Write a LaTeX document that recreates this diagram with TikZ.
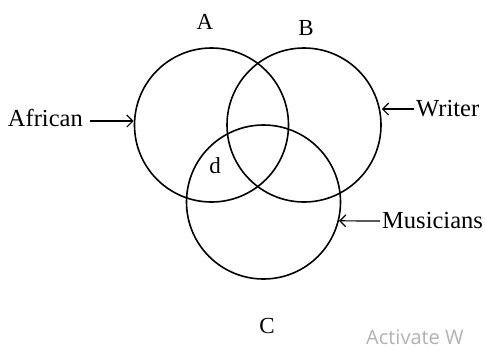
\documentclass[tikz,border=0pt]{standalone}
\usepackage{fontspec}
\setmainfont{Liberation Serif}
\newfontfamily\winfont{Open Sans}
\usetikzlibrary{positioning, arrows.meta}
\tikzset{
	setcircle/.style={circle, draw=black, line width=1.6pt, minimum size=154pt, inner sep=0pt},
	setname/.style={font=\fontsize{23}{27}\selectfont, inner sep=1pt},
	tag/.style={font=\fontsize{24.5}{28}\selectfont, inner sep=2pt},
	pointer/.style={line width=1.2pt, -{Straight Barb[length=6pt, width=12pt]}}
}

\begin{document}
\begin{tikzpicture}[x=1pt, y=-1pt]
\useasboundingbox (0,0) rectangle (485,349);
\node [setcircle] (setA) at (211.5,125) {};
\node [setcircle] (setB) at (304,125) {};
\node [setcircle] (setC) at (263.5,202) {};
 \node [setname] (A) at (205,22) {A};
  \node [setname] (B) at (306,28) {B};
  \node [setname] (C) at (267,326) {C};
  \node [setname] (d) at (215,166) {d};
\node [tag, anchor=east] (african) at (85,118) {African};
\node [tag, anchor=west] (writer) at (414,109) {Writer};
\node [tag, anchor=west] (musicians) at (380,221) {Musicians};
\draw [pointer] (african.east) ++(5,3) coordinate (af) -- (af -| setA.west);
\draw [pointer] (writer.west) -- (writer.west -| setB.east);
\draw [pointer] (musicians.west) -- (setC.-14);
% watermark
\node [anchor=west, text=black!30, font=\winfont\fontsize{20}{24}\selectfont, inner sep=0pt] (mark) at (366,337) {Activate W};
\end{tikzpicture}
\end{document}
